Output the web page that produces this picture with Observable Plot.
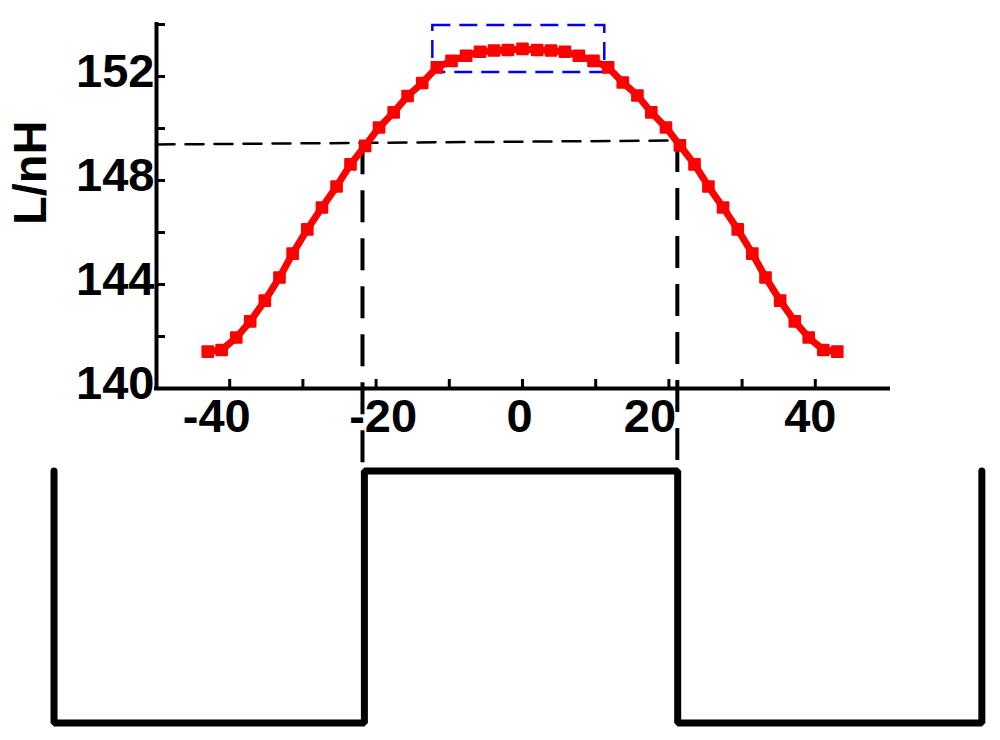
<!DOCTYPE html>
<html>
<head>
<meta charset="utf-8">
<script src="https://cdn.jsdelivr.net/npm/d3@7"></script>
<script src="https://cdn.jsdelivr.net/npm/@observablehq/plot@0.6"></script>
<style>
  html, body { margin: 0; padding: 0; background: #fff; }
  #chart svg { display: block; }
</style>
</head>
<body>
<div id="chart"></div>
<script>
// ---- data ----
const posX = [-43.0, -41.1, -39.1, -37.2, -35.2, -33.2, -31.4, -29.4, -27.4, -25.4, -23.5, -21.5,
  -19.6, -17.6, -15.7, -13.7, -11.7, -9.7, -7.7, -5.8, -3.9, -2.0, 0,
  2.0, 3.9, 5.8, 7.7, 9.7, 11.7, 13.7, 15.7, 17.6, 19.6, 21.5, 23.5, 25.4, 27.4, 29.4, 31.4,
  33.2, 35.2, 37.2, 39.1, 41.1, 43.0];
const inductance = [141.42, 141.48, 141.96, 142.58, 143.38, 144.27, 145.19, 146.12, 146.96, 147.77, 148.62, 149.33,
  150.04, 150.62, 151.25, 151.75, 152.35, 152.6, 152.8, 152.95, 153.0, 153.02, 153.06,
  153.02, 153.0, 152.95, 152.8, 152.6, 152.35, 151.77, 151.27, 150.62, 150.04, 149.35, 148.62, 147.77, 146.96, 146.12, 145.19,
  144.27, 143.38, 142.58, 141.96, 141.48, 141.42];

const xTickValues = [-40, -30, -20, -10, 0, 10, 20, 30, 40];
const xLabelValues = [-40, -20, 0, 20, 40];
const xLabelText = ["-40", "-20", "0", "20", "40"];
const yTickValues = [142, 144, 146, 148, 150, 152, 154];
const yLabelValues = [140, 144, 148, 152];
const yLabelText = ["140", "144", "148", "152"];
const yTitle = "L/nH";

// guide lines (dashed)
const hGuideX = [-50, 21.2];
const hGuideY = [149.385, 149.54];
const vGuideX = [-21.86, 21.15];
const vGuideTop = [149.45, 149.54];
const vGuideBottom = 136.83;
// blue dashed box around the plateau
const boxX = [-12.25, 11.24];
const boxY = [152.15, 153.96];
// square wave below the plot
const waveX = [-64.0, -64.0, -21.6, -21.6, 21.2, 21.2, 62.75, 62.75];
const waveY = [136.83, 127.13, 127.13, 136.83, 136.83, 127.13, 127.13, 136.83];

// ---- layout / style ----
const W = 1000, H = 740;
const mL = 156, mR = 112, mT = 24, mB = 352;
const frameW = W - mL - mR, frameH = H - mT - mB;
const font = "'Liberation Sans', Arial, Helvetica, sans-serif";
const fs = 47;
const xLabelDx = [-13, 7, -3, -19, -5];

const curve = posX.map((x, i) => ({x, y: inductance[i]}));
const wave = waveX.map((x, i) => ({x, y: waveY[i]}));
const hGuide = hGuideX.map((x, i) => ({x, y: hGuideY[i]}));
const vGuides = vGuideX.map((x, i) => ({x, y1: vGuideTop[i], y2: vGuideBottom}));

const marks = [
  // dashed guides
  Plot.line(hGuide, {x: "x", y: "y", stroke: "black", strokeWidth: 2.5, strokeDasharray: "18,11"}),
  Plot.ruleX(vGuides, {x: "x", y1: "y1", y2: "y2", stroke: "black", strokeWidth: 4, strokeDasharray: "32,16"}),
  Plot.rect([{x1: boxX[0], x2: boxX[1], y1: boxY[0], y2: boxY[1]}], {
    x1: "x1", x2: "x2", y1: "y1", y2: "y2", fill: "none", stroke: "#0000ff", strokeWidth: 2.5, strokeDasharray: "18,9"
  }),
  // axes
  Plot.ruleY([140], {x1: -50, x2: 50, stroke: "black", strokeWidth: 4, strokeLinecap: "square"}),
  Plot.ruleX([-50], {y1: 140, y2: 154, stroke: "black", strokeWidth: 4, strokeLinecap: "square"}),
  Plot.tickX(xTickValues, {x: d => d, insetTop: frameH - 9, stroke: "black", strokeWidth: 3}),
  Plot.tickY(yTickValues, {y: d => d, insetRight: frameW - 9, stroke: "black", strokeWidth: 3}),
  ...xLabelValues.map((v, i) => Plot.text([xLabelText[i]], {
    x: () => v, y: () => 140, text: d => d, dy: 28, dx: xLabelDx[i],
    fontSize: fs, fontWeight: "bold", fontFamily: font, fill: "black", textAnchor: "middle"
  })),
  Plot.text(yLabelText, {
    x: () => -50, y: (d, i) => yLabelValues[i], text: d => d, dx: -2, dy: -4.5,
    fontSize: fs, fontWeight: "bold", fontFamily: font, fill: "black", textAnchor: "end"
  }),
  Plot.text([yTitle], {
    x: () => -50, y: () => 148.3, text: d => d, dx: -126, rotate: -90,
    fontSize: fs, fontWeight: "bold", fontFamily: font, fill: "black", textAnchor: "middle"
  }),
  // red curve with square markers
  Plot.line(curve, {x: "x", y: "y", stroke: "#ff0000", strokeWidth: 7, strokeLinejoin: "round"}),
  Plot.dot(curve, {x: "x", y: "y", symbol: "square", r: 6, fill: "#ff0000", stroke: "#ff0000", strokeWidth: 2, strokeLinejoin: "round"}),
  // square wave
  Plot.line(wave, {x: "x", y: "y", stroke: "black", strokeWidth: 7, strokeLinejoin: "miter", strokeLinecap: "round"})
];

const chart = Plot.plot({
  width: W, height: H,
  marginLeft: mL, marginRight: mR, marginTop: mT, marginBottom: mB,
  x: {domain: [-50, 50], axis: null},
  y: {domain: [140, 154], axis: null},
  style: {background: "#fff", fontFamily: font, overflow: "visible"},
  marks
});
document.getElementById("chart").appendChild(chart);
</script>
</body>
</html>
